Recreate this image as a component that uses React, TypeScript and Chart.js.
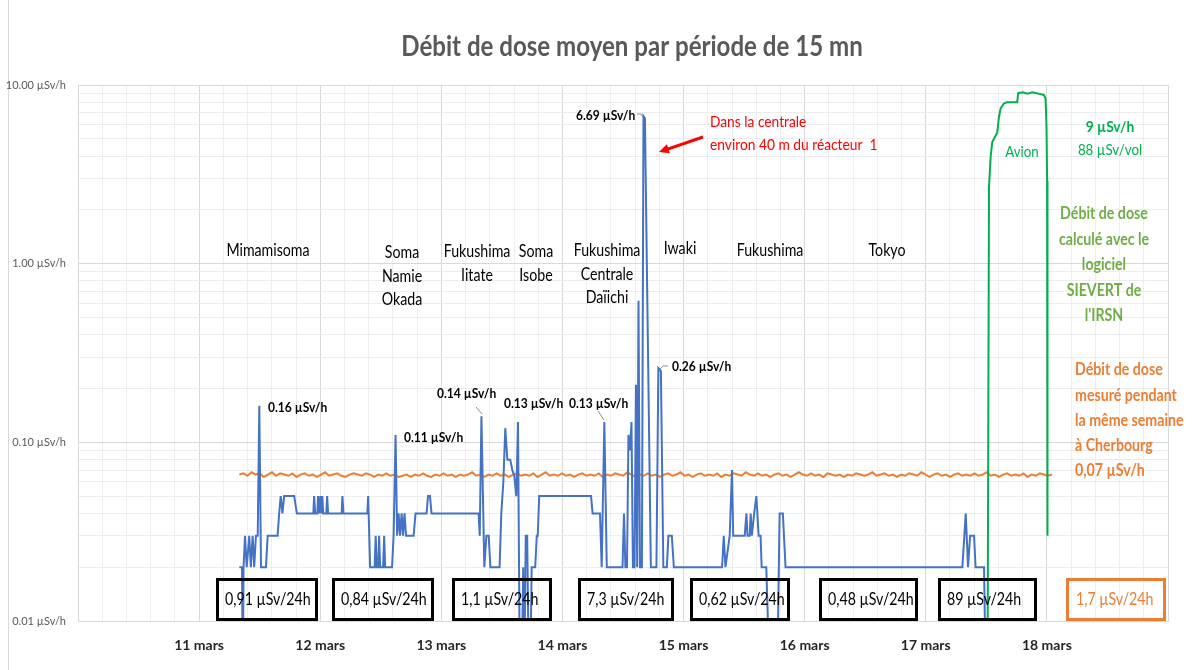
import React, { useEffect, useRef } from 'react';
import { Chart, registerables } from 'chart.js';

Chart.register(...registerables);

// ---------------- data ----------------
const chartTitle = 'Débit de dose moyen par période de 15 mn';
const dayLabels = ['11 mars', '12 mars', '13 mars', '14 mars', '15 mars', '16 mars', '17 mars', '18 mars'];
const firstLabelledDay = 11;
const xMinDay = 10;
const xMaxDay = 19;
const yTickValues = [0.01, 0.1, 1, 10];
const yTickLabels = ['0.01 µSv/h', '0.10 µSv/h', '1.00 µSv/h', '10.00 µSv/h'];

// measured dose rate, [day of March, µSv/h]
const measuredSeries: [number, number][] = [
  [11.332, 0.02], [11.354, 0.02], [11.361, 0.005], [11.367, 0.02], [11.379, 0.03], [11.393, 0.02], [11.414, 0.03], [11.427, 0.02],
  [11.442, 0.03], [11.455, 0.02], [11.469, 0.03], [11.484, 0.03], [11.497, 0.16], [11.511, 0.02], [11.552, 0.02], [11.566, 0.03],
  [11.648, 0.03], [11.661, 0.04], [11.674, 0.05], [11.688, 0.04], [11.702, 0.05], [11.785, 0.05], [11.807, 0.04], [11.943, 0.04],
  [11.950, 0.05], [11.958, 0.04], [11.976, 0.04], [11.982, 0.05], [11.992, 0.04], [12.001, 0.05], [12.009, 0.04], [12.017, 0.05],
  [12.025, 0.04], [12.050, 0.04], [12.057, 0.05], [12.065, 0.04], [12.177, 0.04], [12.183, 0.05], [12.192, 0.04], [12.389, 0.04],
  [12.396, 0.05], [12.412, 0.02], [12.449, 0.02], [12.458, 0.03], [12.466, 0.02], [12.478, 0.02], [12.486, 0.03], [12.495, 0.02],
  [12.519, 0.02], [12.528, 0.03], [12.536, 0.02], [12.593, 0.02], [12.606, 0.03], [12.622, 0.11], [12.635, 0.03], [12.647, 0.04],
  [12.659, 0.03], [12.672, 0.04], [12.684, 0.03], [12.696, 0.04], [12.709, 0.03], [12.771, 0.03], [12.787, 0.04], [12.878, 0.04],
  [12.890, 0.05], [12.906, 0.05], [12.919, 0.04], [13.308, 0.04], [13.317, 0.03], [13.331, 0.14], [13.355, 0.02], [13.372, 0.03],
  [13.391, 0.03], [13.405, 0.02], [13.481, 0.02], [13.495, 0.04], [13.512, 0.06], [13.528, 0.12], [13.545, 0.08], [13.569, 0.08],
  [13.586, 0.07], [13.602, 0.065], [13.619, 0.05], [13.633, 0.13], [13.648, 0.005], [13.664, 0.005], [13.676, 0.02], [13.685, 0.005],
  [13.697, 0.03], [13.709, 0.03], [13.722, 0.005], [13.734, 0.005], [13.746, 0.02], [13.775, 0.02], [13.788, 0.03], [13.796, 0.03],
  [13.808, 0.05], [14.236, 0.05], [14.249, 0.04], [14.310, 0.04], [14.324, 0.02], [14.346, 0.13], [14.366, 0.02], [14.496, 0.02],
  [14.508, 0.04], [14.520, 0.02], [14.533, 0.02], [14.545, 0.11], [14.558, 0.09], [14.570, 0.13], [14.582, 0.02], [14.595, 0.02],
  [14.607, 0.21], [14.617, 0.02], [14.628, 0.62], [14.640, 0.02], [14.656, 0.02], [14.669, 6.69], [14.681, 6.5], [14.730, 0.02],
  [14.776, 0.02], [14.792, 0.26], [14.813, 0.25], [14.833, 0.02], [14.862, 0.02], [14.875, 0.03], [14.903, 0.03], [14.920, 0.02],
  [15.318, 0.02], [15.332, 0.03], [15.346, 0.02], [15.381, 0.03], [15.400, 0.07], [15.410, 0.03], [15.505, 0.03], [15.519, 0.04],
  [15.528, 0.03], [15.546, 0.03], [15.554, 0.04], [15.564, 0.03], [15.583, 0.04], [15.601, 0.05], [15.620, 0.03], [15.636, 0.03],
  [15.645, 0.02], [15.683, 0.02], [15.710, 0.005], [15.774, 0.005], [15.793, 0.04], [15.820, 0.04], [15.842, 0.02], [17.302, 0.02],
  [17.330, 0.04], [17.349, 0.02], [17.366, 0.03], [17.399, 0.03], [17.411, 0.02], [17.481, 0.02], [17.495, 0.005],
];

// Cherbourg reference, regular readings between these two dates
const cherbourgStart = 11.332;
const cherbourgEnd = 18.043;
const cherbourgValues = [
  0.066, 0.067, 0.065, 0.068, 0.066, 0.067, 0.064, 0.066, 0.068, 0.065,
  0.067, 0.066, 0.065, 0.067, 0.064, 0.066, 0.067, 0.065, 0.066, 0.064,
  0.066, 0.068, 0.065, 0.066, 0.067, 0.065, 0.064, 0.066, 0.067, 0.066,
  0.065, 0.067, 0.066, 0.064, 0.066, 0.065, 0.067, 0.065, 0.066, 0.064,
  0.065, 0.066, 0.064, 0.066, 0.065, 0.067, 0.065, 0.064, 0.066, 0.065,
  0.067, 0.065, 0.066, 0.064, 0.066, 0.065, 0.066, 0.068, 0.065, 0.066,
  0.064, 0.066, 0.065, 0.067, 0.065, 0.066, 0.064, 0.066, 0.067, 0.065,
  0.066, 0.065, 0.067, 0.064, 0.066, 0.068, 0.065, 0.066, 0.065, 0.067,
  0.065, 0.066, 0.064, 0.066, 0.067, 0.065, 0.066, 0.065, 0.067, 0.064,
  0.066, 0.065, 0.067, 0.066, 0.065, 0.068, 0.066, 0.064, 0.066, 0.065,
  0.067, 0.065, 0.066, 0.064, 0.066, 0.067, 0.065, 0.066, 0.068, 0.065,
  0.066, 0.064, 0.066, 0.067, 0.065, 0.066, 0.065, 0.067, 0.064, 0.066,
  0.065, 0.067, 0.066, 0.065, 0.068, 0.066, 0.065, 0.067, 0.065, 0.066,
  0.064, 0.066, 0.067, 0.065, 0.066, 0.064, 0.066, 0.068, 0.066, 0.065,
  0.067, 0.065, 0.066, 0.064, 0.067, 0.066, 0.065, 0.066, 0.064, 0.066,
  0.065, 0.067, 0.066, 0.065, 0.066, 0.068, 0.065, 0.066, 0.067, 0.065,
  0.066, 0.064, 0.066, 0.065, 0.067, 0.066, 0.065, 0.068, 0.066, 0.064,
  0.066, 0.067, 0.065, 0.066, 0.064, 0.066, 0.067, 0.065, 0.066, 0.065,
  0.067, 0.065, 0.066, 0.068, 0.065, 0.066, 0.064, 0.066, 0.067, 0.065,
  0.066, 0.065, 0.067, 0.064, 0.066, 0.065, 0.067, 0.066, 0.065, 0.066,
];

// flight back, computed with SIEVERT
const flightSeries: [number, number][] = [
  [17.510, 0.005], [17.522, 2.7], [17.536, 4.0], [17.549, 4.8], [17.563, 5.0], [17.590, 5.4], [17.604, 6.6], [17.618, 7.4],
  [17.646, 7.9], [17.673, 8.0], [17.755, 8.0], [17.763, 9.0], [17.800, 9.1], [17.840, 8.95], [17.880, 9.1], [17.930, 8.95],
  [17.975, 8.8], [17.989, 8.4], [17.997, 5.8], [18.002, 2.9], [18.005, 0.03],
];

const dailyDoses = ['0,91 µSv/24h', '0,84 µSv/24h', '1,1 µSv/24h', '7,3 µSv/24h', '0,62 µSv/24h', '0,48 µSv/24h', '89 µSv/24h'];
const cherbourgDailyDose = '1,7 µSv/24h';
const placeNames = [
  ['Mimamisoma'], ['Soma', 'Namie', 'Okada'], ['Fukushima', 'Iitate'], ['Soma', 'Isobe'],
  ['Fukushima', 'Centrale', 'Daïichi'], ['Iwaki'], ['Fukushima'], ['Tokyo'],
];
const peakLabels = ['0.16 µSv/h', '0.11 µSv/h', '0.14 µSv/h', '0.13 µSv/h', '0.13 µSv/h', '6.69 µSv/h', '0.26 µSv/h'];
const plantNote = ['Dans la centrale', 'environ 40 m du réacteur  1'];
const flightNote = ['9 µSv/h', '88 µSv/vol'];
const flightLabel = 'Avion';
const sievertNote = ['Débit de dose', 'calculé avec le', 'logiciel', 'SIEVERT de', "l'IRSN"];
const cherbourgNote = ['Débit de dose', 'mesuré pendant', 'la même semaine', 'à Cherbourg', '0,07 µSv/h'];

// ---------------- layout / style ----------------
const W = 1201;
const H = 670;
const FONT = 'Lato, "Open Sans", sans-serif';
const SX = 0.86; // horizontal condensing to mimic a narrow font
const BLUE = '#4472C4';
const ORANGE = '#ED7D31';
const GREEN = '#00B050';
const LIGHT_GREEN = '#70AD47';
const BOX_X = [[216, 318], [332, 434], [452, 552], [578, 674], [690, 790], [819, 918], [938, 1037]];
const CHER_BOX_X = [1066, 1166];
const BOX_Y = [578, 621];
const PLACE_POS = [[268, 251], [402, 253], [477, 252], [536, 252], [607, 251], [680, 249], [770, 251], [887, 251]];
const PEAK_POS = [[268, 407], [404, 437], [437, 393], [504, 403], [569, 403], [576, 115], [672, 366]];
const LEADERS = [
  [[476, 407], [482, 414]],
  [[598, 411], [604, 420]],
  [[637, 114], [641, 114], [643, 117]],
  [[660, 369], [663, 366], [668, 366]],
];

function txt(ctx: CanvasRenderingContext2D, s: string, x: number, y: number, size: number, weight: string, color: string, align: 'left' | 'center' | 'right' = 'left') {
  ctx.save();
  ctx.font = `${weight} ${size}px ${FONT}`;
  ctx.fillStyle = color;
  ctx.textBaseline = 'middle';
  ctx.textAlign = 'left';
  const w = ctx.measureText(s).width * SX;
  const left = align === 'center' ? x - w / 2 : align === 'right' ? x - w : x;
  ctx.translate(left, y);
  ctx.scale(SX, 1);
  ctx.fillText(s, 0, 0);
  ctx.restore();
}

const isInt = (v: number) => Math.abs(v - Math.round(v)) < 1e-6;
const isDecade = (v: number) => isInt(Math.log10(v));

const overlayPlugin = {
  id: 'overlay',
  beforeDraw(chart: any) {
    const ctx = chart.ctx as CanvasRenderingContext2D;
    ctx.save();
    ctx.fillStyle = '#ffffff';
    ctx.fillRect(0, 0, W, H);
    ctx.strokeStyle = '#d9d9d9';
    ctx.lineWidth = 1;
    ctx.beginPath();
    ctx.moveTo(8.5, 0);
    ctx.lineTo(8.5, H);
    ctx.stroke();
    ctx.restore();
  },
  afterDatasetsDraw(chart: any) {
    const ctx = chart.ctx as CanvasRenderingContext2D;
    // title
    txt(ctx, chartTitle, 632, 47, 28, 'bold', '#595959', 'center');

    // place names
    placeNames.forEach((lines, i) => {
      lines.forEach((l, j) => txt(ctx, l, PLACE_POS[i][0], PLACE_POS[i][1] + j * 23.3, 16.5, 'normal', '#000000', 'center'));
    });

    // leader lines
    ctx.save();
    ctx.strokeStyle = '#8c8c8c';
    ctx.lineWidth = 1;
    LEADERS.forEach((pts) => {
      ctx.beginPath();
      pts.forEach(([x, y], k) => (k ? ctx.lineTo(x, y) : ctx.moveTo(x, y)));
      ctx.stroke();
    });
    ctx.restore();

    // peak labels
    peakLabels.forEach((l, i) => txt(ctx, l, PEAK_POS[i][0], PEAK_POS[i][1], 14, 'bold', '#000000', 'left'));

    // plant note + arrow
    txt(ctx, plantNote[0], 710, 122, 16, 'normal', '#FF0000', 'left');
    txt(ctx, plantNote[1], 710, 145, 16, 'normal', '#FF0000', 'left');
    ctx.save();
    ctx.strokeStyle = '#FF0000';
    ctx.fillStyle = '#FF0000';
    ctx.lineWidth = 3;
    const ax0 = 703, ay0 = 137, ax1 = 659, ay1 = 152;
    const ang = Math.atan2(ay1 - ay0, ax1 - ax0);
    ctx.beginPath();
    ctx.moveTo(ax0, ay0);
    ctx.lineTo(ax1 - Math.cos(ang) * 6, ay1 - Math.sin(ang) * 6);
    ctx.stroke();
    ctx.beginPath();
    ctx.moveTo(ax1, ay1);
    ctx.lineTo(ax1 - Math.cos(ang - 0.45) * 11, ay1 - Math.sin(ang - 0.45) * 11);
    ctx.lineTo(ax1 - Math.cos(ang + 0.45) * 11, ay1 - Math.sin(ang + 0.45) * 11);
    ctx.closePath();
    ctx.fill();
    ctx.restore();

    // flight texts
    txt(ctx, flightLabel, 1022, 152, 15.5, 'normal', GREEN, 'center');
    txt(ctx, flightNote[0], 1110, 127, 16, 'bold', GREEN, 'center');
    txt(ctx, flightNote[1], 1110, 150, 15.5, 'normal', GREEN, 'center');
    sievertNote.forEach((l, i) => txt(ctx, l, 1104, 214 + i * 25.5, 16.5, 'bold', LIGHT_GREEN, 'center'));
    cherbourgNote.forEach((l, i) => txt(ctx, l, 1075, 370 + i * 25.2, 16.5, 'bold', ORANGE, 'left'));

    // daily dose boxes
    ctx.save();
    ctx.lineWidth = 3;
    BOX_X.forEach(([a, b], i) => {
      ctx.strokeStyle = '#000000';
      ctx.strokeRect(a + 1.5, BOX_Y[0] + 1.5, b - a - 3, BOX_Y[1] - BOX_Y[0] - 3);
      txt(ctx, dailyDoses[i], a + 9, 600, 16.5, 'normal', '#000000', 'left');
    });
    ctx.strokeStyle = ORANGE;
    ctx.strokeRect(CHER_BOX_X[0] + 1.5, BOX_Y[0] + 1.5, CHER_BOX_X[1] - CHER_BOX_X[0] - 3, BOX_Y[1] - BOX_Y[0] - 3);
    ctx.restore();
    txt(ctx, cherbourgDailyDose, CHER_BOX_X[0] + 10, 600, 16.5, 'normal', ORANGE, 'left');
  },
};

export default function App() {
  const ref = useRef<HTMLCanvasElement>(null);

  useEffect(() => {
    if (!ref.current) return;
    const step = (cherbourgEnd - cherbourgStart) / (cherbourgValues.length - 1);
    const chart = new Chart(ref.current, {
      type: 'line',
      data: {
        datasets: [
          {
            label: 'Avion',
            data: flightSeries.map(([x, y]) => ({ x, y })),
            borderColor: GREEN,
            borderWidth: 2,
            pointRadius: 0,
            tension: 0,
          },
          {
            label: 'Débit de dose mesuré',
            data: measuredSeries.map(([x, y]) => ({ x, y })),
            borderColor: BLUE,
            borderWidth: 2,
            pointRadius: 0,
            tension: 0,
          },
          {
            label: 'Cherbourg',
            data: cherbourgValues.map((y, i) => ({ x: cherbourgStart + i * step, y })),
            borderColor: ORANGE,
            borderWidth: 2,
            pointRadius: 0,
            tension: 0,
          },
        ],
      },
      options: {
        animation: false,
        responsive: true,
        maintainAspectRatio: false,
        layout: { padding: { top: 85, right: 33, left: 0, bottom: 0 } },
        plugins: { legend: { display: false }, tooltip: { enabled: false }, title: { display: false } },
        scales: {
          x: {
            type: 'linear',
            min: xMinDay,
            max: xMaxDay,
            afterBuildTicks: (s: any) => {
              const t = [];
              for (let i = 0; i <= (xMaxDay - xMinDay) * 5; i++) t.push({ value: xMinDay + i / 5 });
              s.ticks = t;
            },
            afterFit: (s: any) => {
              s.height = 49;
            },
            grid: {
              color: (c: any) => (c.tick && isInt(c.tick.value) ? '#d9d9d9' : '#efefef'),
              drawTicks: false,
            },
            border: { display: true, color: '#d9d9d9' },
            ticks: {
              autoSkip: false,
              maxRotation: 0,
              padding: 16,
              color: '#262626',
              font: { family: FONT, size: 14, weight: 'bold' },
              callback: (v: any) => {
                const n = Number(v);
                if (!isInt(n)) return '';
                const idx = Math.round(n) - firstLabelledDay;
                return idx >= 0 && idx < dayLabels.length ? dayLabels[idx] : '';
              },
            },
          },
          y: {
            type: 'logarithmic',
            min: 0.01,
            max: 10,
            afterBuildTicks: (s: any) => {
              const t = [];
              for (let p = -2; p < 1; p++) {
                for (let k = 1; k < 10; k++) t.push({ value: k * Math.pow(10, p) });
              }
              t.push({ value: 10 });
              s.ticks = t;
            },
            afterFit: (s: any) => {
              s.width = 78;
            },
            grid: {
              color: (c: any) => (c.tick && isDecade(c.tick.value) ? '#d9d9d9' : '#ececec'),
              drawTicks: false,
            },
            border: { display: true, color: '#d9d9d9' },
            ticks: {
              autoSkip: false,
              padding: 12,
              color: '#595959',
              font: { family: FONT, size: 11 },
              callback: (v: any) => {
                const n = Number(v);
                const idx = yTickValues.findIndex((t) => Math.abs(Math.log10(t) - Math.log10(n)) < 1e-6);
                return idx >= 0 ? yTickLabels[idx] : '';
              },
            },
          },
        },
      },
      plugins: [overlayPlugin],
    } as any);
    return () => chart.destroy();
  }, []);

  return (
    <div style={{ position: 'absolute', left: 0, top: 0, width: W, height: H, background: '#fff' }}>
      <canvas ref={ref} />
    </div>
  );
}
